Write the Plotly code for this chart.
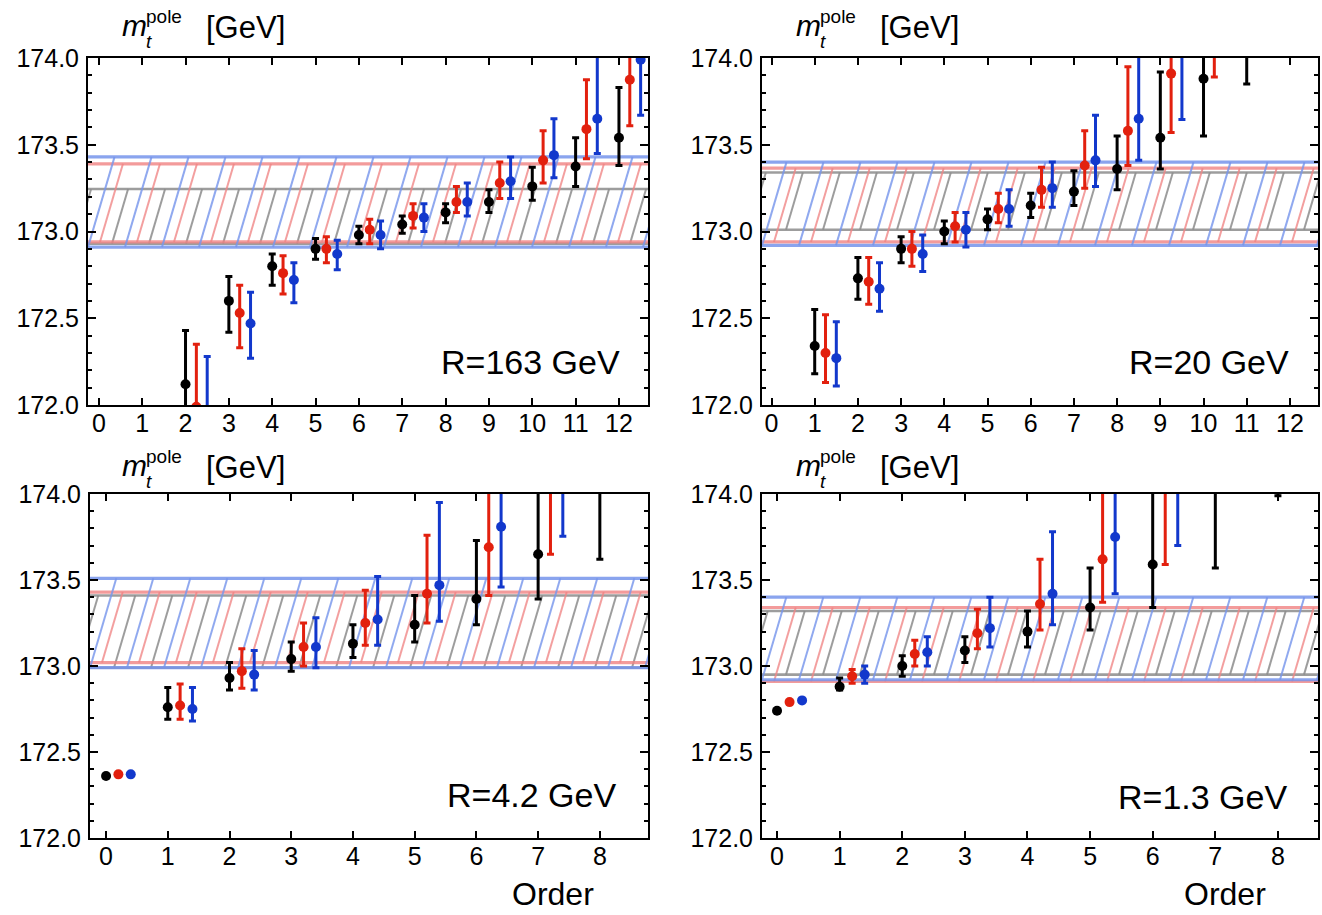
import plotly.graph_objects as go

# ---------------- data ----------------
# Panel R = 163 GeV (orders 2..12)
R163_orders = [2, 3, 4, 5, 6, 7, 8, 9, 10, 11, 12]
R163_black_mid = [172.12, 172.60, 172.80, 172.90, 172.98, 173.04, 173.11, 173.17, 173.26, 173.375, 173.54]
R163_black_hi = [172.43, 172.74, 172.87, 172.96, 173.03, 173.09, 173.16, 173.24, 173.37, 173.54, 173.83]
R163_black_lo = [171.70, 172.42, 172.69, 172.84, 172.93, 172.99, 173.05, 173.11, 173.18, 173.26, 173.38]
R163_red_mid = [171.99, 172.53, 172.76, 172.90, 173.01, 173.09, 173.17, 173.28, 173.41, 173.59, 173.875]
R163_red_hi = [172.35, 172.69, 172.86, 172.97, 173.07, 173.16, 173.26, 173.40, 173.58, 173.875, 174.25]
R163_red_lo = [171.50, 172.33, 172.64, 172.82, 172.93, 173.02, 173.11, 173.19, 173.28, 173.42, 173.61]
R163_blue_mid = [171.97, 172.47, 172.72, 172.87, 172.98, 173.08, 173.17, 173.29, 173.44, 173.65, 173.99]
R163_blue_hi = [172.28, 172.65, 172.82, 172.95, 173.06, 173.16, 173.28, 173.43, 173.65, 174.02, 174.40]
R163_blue_lo = [171.40, 172.27, 172.59, 172.78, 172.90, 173.00, 173.09, 173.19, 173.31, 173.45, 173.67]
R163_bands = {"gray": (172.93, 173.245), "red": (172.94, 173.39), "blue": (172.91, 173.43)}

# Panel R = 20 GeV
R20_orders_black = [1, 2, 3, 4, 5, 6, 7, 8, 9, 10, 11]
R20_black_mid = [172.34, 172.73, 172.90, 173.00, 173.07, 173.15, 173.23, 173.36, 173.54, 173.88, 174.25]
R20_black_hi = [172.55, 172.85, 172.97, 173.06, 173.13, 173.22, 173.35, 173.55, 173.92, 174.30, 174.70]
R20_black_lo = [172.18, 172.61, 172.82, 172.93, 173.01, 173.08, 173.15, 173.24, 173.36, 173.55, 173.85]
R20_orders_red = [1, 2, 3, 4, 5, 6, 7, 8, 9, 10]
R20_red_mid = [172.30, 172.71, 172.90, 173.03, 173.13, 173.24, 173.38, 173.58, 173.91, 174.20]
R20_red_hi = [172.52, 172.85, 173.00, 173.11, 173.22, 173.37, 173.58, 173.95, 174.30, 174.60]
R20_red_lo = [172.13, 172.58, 172.80, 172.94, 173.05, 173.14, 173.25, 173.38, 173.57, 173.89]
R20_orders_blue = [1, 2, 3, 4, 5, 6, 7, 8, 9]
R20_blue_mid = [172.27, 172.67, 172.87, 173.01, 173.13, 173.25, 173.41, 173.65, 174.10]
R20_blue_hi = [172.48, 172.82, 172.98, 173.11, 173.24, 173.40, 173.67, 174.05, 174.50]
R20_blue_lo = [172.11, 172.54, 172.77, 172.91, 173.03, 173.14, 173.26, 173.41, 173.645]
R20_bands = {"gray": (173.01, 173.34), "red": (172.94, 173.365), "blue": (172.92, 173.40)}

# Panel R = 4.2 GeV
R42_orders_black = [0, 1, 2, 3, 4, 5, 6, 7, 8]
R42_black_mid = [172.36, 172.76, 172.93, 173.04, 173.13, 173.24, 173.39, 173.65, 174.10]
R42_black_hi = [None, 172.875, 173.02, 173.14, 173.24, 173.41, 173.73, 174.10, 174.60]
R42_black_lo = [None, 172.69, 172.86, 172.97, 173.05, 173.14, 173.24, 173.39, 173.62]
R42_orders_red = [0, 1, 2, 3, 4, 5, 6, 7]
R42_red_mid = [172.37, 172.77, 172.97, 173.11, 173.25, 173.42, 173.69, 174.05]
R42_red_hi = [None, 172.895, 173.10, 173.25, 173.44, 173.76, 174.10, 174.50]
R42_red_lo = [None, 172.69, 172.87, 173.00, 173.12, 173.25, 173.41, 173.65]
R42_orders_blue = [0, 1, 2, 3, 4, 5, 6, 7]
R42_blue_mid = [172.37, 172.75, 172.95, 173.11, 173.27, 173.47, 173.81, 174.15]
R42_blue_hi = [None, 172.875, 173.09, 173.28, 173.52, 173.95, 174.20, 174.60]
R42_blue_lo = [None, 172.68, 172.86, 172.99, 173.12, 173.26, 173.46, 173.755]
R42_bands = {"gray": (172.99, 173.41), "red": (173.02, 173.43), "blue": (172.99, 173.51)}

# Panel R = 1.3 GeV
R13_orders_black = [0, 1, 2, 3, 4, 5, 6, 7, 8]
R13_black_mid = [172.74, 172.88, 173.00, 173.09, 173.20, 173.34, 173.59, 174.10, 174.50]
R13_black_hi = [None, 172.93, 173.06, 173.17, 173.32, 173.57, 174.10, 174.50, 175.00]
R13_black_lo = [None, 172.86, 172.94, 173.02, 173.11, 173.21, 173.34, 173.57, 173.99]
R13_orders_red = [0, 1, 2, 3, 4, 5, 6]
R13_red_mid = [172.79, 172.94, 173.07, 173.19, 173.36, 173.62, 174.05]
R13_red_hi = [None, 172.98, 173.15, 173.33, 173.62, 174.10, 174.50]
R13_red_lo = [None, 172.90, 173.00, 173.10, 173.21, 173.37, 173.59]
R13_orders_blue = [0, 1, 2, 3, 4, 5, 6]
R13_blue_mid = [172.80, 172.95, 173.08, 173.22, 173.42, 173.75, 174.10]
R13_blue_hi = [None, 173.00, 173.17, 173.40, 173.78, 174.20, 174.50]
R13_blue_lo = [None, 172.90, 173.00, 173.11, 173.24, 173.42, 173.70]
R13_bands = {"gray": (172.95, 173.32), "red": (172.91, 173.34), "blue": (172.92, 173.40)}

top_ticks = list(range(0, 13))
bottom_ticks = list(range(0, 9))
labels = ["R=163 GeV", "R=20 GeV", "R=4.2 GeV", "R=1.3 GeV"]

# ---------------- style ----------------
W, H = 1322, 915
FONT = "Liberation Sans, Arial, sans-serif"
COL = {"black": "#000000", "red": "#e2200e", "blue": "#1238cc"}
BAND_LINE = {"gray": "rgba(140,140,140,0.85)", "red": "rgba(240,130,130,0.8)", "blue": "rgba(118,148,235,0.85)"}
HATCH = {"gray": "rgba(140,140,140,0.85)", "red": "rgba(240,135,135,0.8)", "blue": "rgba(120,150,235,0.82)"}
HATCH_PHASE = {"blue": 0.0, "red": 12.0, "gray": 24.0}
HATCH_SPACING = 37.0
HATCH_SLOPE = 3.4

# pixel boxes of plot frames: (left, right, top, bottom)
boxes = [(88, 648, 58, 405), (762, 1318, 58, 405), (90, 648, 494, 838), (762, 1318, 494, 838)]
xranges = [[-0.25, 12.67], [-0.22, 12.65], [-0.26, 8.78], [-0.24, 8.64]]
yrange = [172.0, 174.0]

panels = [
    dict(bands=R163_bands, off=[0, 0.25, 0.5], ticks=top_ticks,
         series=[("black", R163_orders, R163_black_mid, R163_black_hi, R163_black_lo),
                 ("red", R163_orders, R163_red_mid, R163_red_hi, R163_red_lo),
                 ("blue", R163_orders, R163_blue_mid, R163_blue_hi, R163_blue_lo)]),
    dict(bands=R20_bands, off=[0, 0.25, 0.5], ticks=top_ticks,
         series=[("black", R20_orders_black, R20_black_mid, R20_black_hi, R20_black_lo),
                 ("red", R20_orders_red, R20_red_mid, R20_red_hi, R20_red_lo),
                 ("blue", R20_orders_blue, R20_blue_mid, R20_blue_hi, R20_blue_lo)]),
    dict(bands=R42_bands, off=[0, 0.2, 0.4], ticks=bottom_ticks,
         series=[("black", R42_orders_black, R42_black_mid, R42_black_hi, R42_black_lo),
                 ("red", R42_orders_red, R42_red_mid, R42_red_hi, R42_red_lo),
                 ("blue", R42_orders_blue, R42_blue_mid, R42_blue_hi, R42_blue_lo)]),
    dict(bands=R13_bands, off=[0, 0.2, 0.4], ticks=bottom_ticks,
         series=[("black", R13_orders_black, R13_black_mid, R13_black_hi, R13_black_lo),
                 ("red", R13_orders_red, R13_red_mid, R13_red_hi, R13_red_lo),
                 ("blue", R13_orders_blue, R13_blue_mid, R13_blue_hi, R13_blue_lo)]),
]

fig = go.Figure()
layout = dict(width=W, height=H, margin=dict(l=0, r=0, t=0, b=0, autoexpand=False),
              paper_bgcolor="white", plot_bgcolor="white", showlegend=False,
              font=dict(family=FONT, color="black"))
annotations = []

for i, p in enumerate(panels):
    k = "" if i == 0 else str(i + 1)
    xa, ya = "x" + k, "y" + k
    l, r, t, b = boxes[i]
    xr = xranges[i]
    layout["xaxis" + k] = dict(
        domain=[l / W, r / W], anchor=ya, range=xr, tickmode="array", tickvals=p["ticks"],
        ticks="inside", ticklen=7, tickwidth=2, tickcolor="black", showline=True, linewidth=2,
        linecolor="black", mirror="allticks", showgrid=False, zeroline=False, automargin=False,
        tickfont=dict(size=25, family=FONT), ticklabelstandoff=-5)
    layout["yaxis" + k] = dict(
        domain=[1 - b / H, 1 - t / H], anchor=xa, range=yrange, dtick=0.5, tick0=172,
        tickformat=".1f", ticks="inside", ticklen=8, tickwidth=2, tickcolor="black",
        showline=True, linewidth=2, linecolor="black", mirror="allticks", showgrid=False,
        zeroline=False, automargin=False, tickfont=dict(size=25, family=FONT), ticklabelstandoff=2,
        minor=dict(dtick=0.1, tick0=172, ticks="inside", ticklen=4, tickwidth=1.5,
                   tickcolor="black", showgrid=False))

    pxu = (r - l) / (xr[1] - xr[0])
    pyu = (b - t) / (yrange[1] - yrange[0])
    # hatched bands
    for name in ["gray", "red", "blue"]:
        y0, y1 = p["bands"][name]
        hp = (y1 - y0) * pyu
        dxp = hp / HATCH_SLOPE
        xs, ys = [], []
        xp = l + HATCH_PHASE[name] - HATCH_SPACING * 3
        while xp < r + HATCH_SPACING:
            xb = xr[0] + (xp - l) / pxu
            xt = xb + dxp / pxu
            xs += [xb, xt, None]
            ys += [y0, y1, None]
            xp += HATCH_SPACING
        fig.add_trace(go.Scatter(x=xs, y=ys, mode="lines", xaxis=xa, yaxis=ya,
                                 line=dict(color=HATCH[name], width=2), hoverinfo="skip"))
        for yy in (y0, y1):
            fig.add_trace(go.Scatter(x=[xr[0] - 1, xr[1] + 1], y=[yy, yy], mode="lines",
                                     xaxis=xa, yaxis=ya, hoverinfo="skip",
                                     line=dict(color=BAND_LINE[name], width=3.2 if name != "gray" else 2.6)))
    # points with error bars
    for j, (cname, orders, mid, hi, lo) in enumerate(p["series"]):
        xs = [o + p["off"][j] for o in orders]
        up = [None if h is None else h - m for h, m in zip(hi, mid)]
        dn = [None if q is None else m - q for q, m in zip(lo, mid)]
        fig.add_trace(go.Scatter(
            x=xs, y=mid, mode="markers", xaxis=xa, yaxis=ya, cliponaxis=True,
            marker=dict(color=COL[cname], size=10),
            error_y=dict(type="data", symmetric=False, array=up, arrayminus=dn,
                         color=COL[cname], thickness=3, width=3.5)))

    # axis title m_t^pole [GeV]
    tx = 120 if i % 2 == 0 else 794
    dy = 0 if i < 2 else 440
    annotations += [
        dict(text="<i>m</i>", x=tx / W, y=1 - (25 + dy) / H, xref="paper", yref="paper",
             xanchor="left", yanchor="middle", showarrow=False, font=dict(size=30, family=FONT)),
        dict(text="pole<br><i>t</i>", x=(tx + 24) / W, y=1 - (29 + dy) / H, xref="paper", yref="paper",
             xanchor="left", yanchor="middle", align="left", showarrow=False,
             font=dict(size=19, family=FONT)),
        dict(text="[GeV]", x=(tx + 84) / W, y=1 - (28 + dy) / H, xref="paper", yref="paper",
             xanchor="left", yanchor="middle", showarrow=False, font=dict(size=31, family=FONT)),
    ]
    # R label
    rx = [622, 1291, 618, 1289][i]
    ry = [362, 362, 795, 797][i]
    annotations.append(dict(text=labels[i], x=rx / W, y=1 - ry / H, xref="paper", yref="paper",
                            xanchor="right", yanchor="middle", showarrow=False,
                            font=dict(size=34, family=FONT)))

for cx in (553, 1225):
    annotations.append(dict(text="Order", x=cx / W, y=1 - 894 / H, xref="paper", yref="paper",
                            xanchor="center", yanchor="middle", showarrow=False,
                            font=dict(size=32, family=FONT)))

layout["annotations"] = annotations
fig.update_layout(**layout)
fig.write_html("out.html")
